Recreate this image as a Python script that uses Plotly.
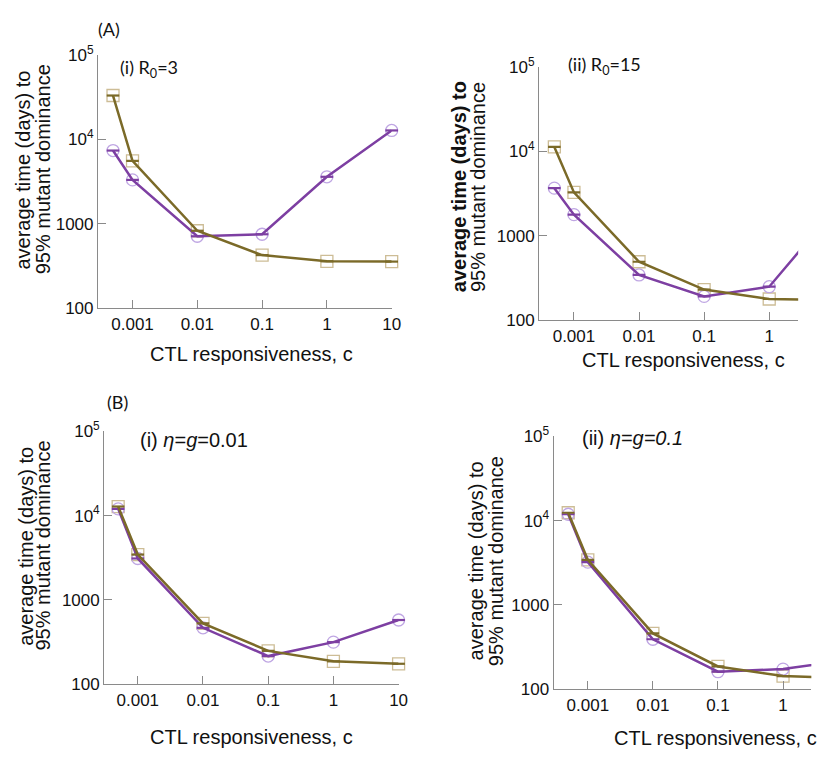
import plotly.graph_objects as go

W, H = 824, 761

# ---- data ----
c_vals = [0.0005, 0.001, 0.01, 0.1, 1, 10]
x_tickvals = [0.001, 0.01, 0.1, 1, 10]
x_ticktext = ["0.001", "0.01", "0.1", "1", "10"]
y_tickvals = [100, 1000, 10000, 100000]
y_ticktext = ["100", "1000", "10<sup>4</sup>", "10<sup>5</sup>"]

A_i_purple = [7340, 3300, 710, 750, 3590, 12700]
A_i_olive = [32900, 5540, 825, 425, 359, 356]
A_ii_purple = [3670, 1780, 343, 191, 249, 2030]
A_ii_olive = [11300, 3270, 492, 230, 178, 172]
B_i_purple = [12000, 3100, 467, 216, 316, 578]
B_i_olive = [12800, 3450, 528, 249, 187, 175]
B_ii_purple = [11900, 3220, 391, 161, 173, 222]
B_ii_olive = [12400, 3430, 459, 186, 143, 134]

panel_titles = ["(i) R<sub>0</sub>=3", "(ii) R<sub>0</sub>=15",
                "(i) <i>η</i>=<i>g</i>=0.01", "(ii) <i>η=g=0.1</i>"]
y_title_1 = "average time (days) to"
y_title_2 = "95% mutant dominance"
x_title = "CTL responsiveness, c"

# ---- style ----
PURPLE = "#7d3fa2"
OLIVE = "#7b6a28"
LAVENDER = "#bfa6e3"
TAN = "#cdbd96"
AXIS = "#8a8a8a"
TICKFONT = dict(family="Liberation Sans", size=17, color="#111")
TITLEFONT = dict(family="Liberation Sans", size=20, color="#111")
LABELFONT = dict(family="Lato", size=18, color="#111")

def px2x(px):
    return px / W

def py2y(py):
    return 1 - py / H

# pixel geometry of each panel
panels = [
    dict(x0=99, x1=396, yb=305, yt=44, xr=[-3.534, 1.0], clip=False,
         purple=A_i_purple, olive=A_i_olive),
    dict(x0=545, x1=807, yb=317.3, yt=56.7, xr=[-3.536, 0.445], clip=True,
         purple=A_ii_purple, olive=A_ii_olive),
    dict(x0=105.3, x1=403, yb=692.3, yt=431.7, xr=[-3.516, 1.0], clip=False,
         purple=B_i_purple, olive=B_i_olive),
    dict(x0=559.7, x1=820.3, yb=697.3, yt=437, xr=[-3.526, 0.435], clip=True,
         purple=B_ii_purple, olive=B_ii_olive),
]

fig = go.Figure()
layout = dict(width=W, height=H, margin=dict(l=0, r=0, t=0, b=0, pad=0),
              paper_bgcolor="white", plot_bgcolor="white", showlegend=False)

for i, p in enumerate(panels):
    n = "" if i == 0 else str(i + 1)
    xa, ya = "x" + n, "y" + n
    layout["xaxis" + n] = dict(
        type="log", range=p["xr"], domain=[px2x(p["x0"]), px2x(p["x1"])],
        anchor=ya, showgrid=False, zeroline=False, showline=True,
        linecolor=AXIS, linewidth=1, ticks="inside", ticklen=8, tickcolor=AXIS,
        tickwidth=1, tickvals=x_tickvals, ticktext=x_ticktext, tickfont=TICKFONT,
    )
    layout["yaxis" + n] = dict(
        type="log", range=[2, 5], domain=[py2y(p["yb"]), py2y(p["yt"])],
        anchor=xa, showgrid=False, zeroline=False, showline=True,
        linecolor=AXIS, linewidth=1, ticks="inside", ticklen=8, tickcolor=AXIS,
        tickwidth=1, tickvals=y_tickvals, ticktext=y_ticktext, tickfont=TICKFONT,
    )
    fig.add_trace(go.Scatter(x=c_vals, y=p["olive"], mode="markers", xaxis=xa, yaxis=ya,
                             cliponaxis=p["clip"],
                             marker=dict(symbol="square-open", size=12, color=TAN,
                                         line=dict(width=1.3, color=TAN))))
    fig.add_trace(go.Scatter(x=c_vals, y=p["purple"], mode="markers", xaxis=xa, yaxis=ya,
                             cliponaxis=p["clip"],
                             marker=dict(symbol="circle-open", size=12, color=LAVENDER,
                                         line=dict(width=1.3, color=LAVENDER))))
    fig.add_trace(go.Scatter(x=c_vals, y=p["purple"], mode="lines+markers", xaxis=xa, yaxis=ya,
                             cliponaxis=p["clip"],
                             line=dict(color=PURPLE, width=2.5),
                             marker=dict(symbol="line-ew", size=9, color=PURPLE,
                                         line=dict(width=2.2, color=PURPLE))))
    fig.add_trace(go.Scatter(x=c_vals, y=p["olive"], mode="lines+markers", xaxis=xa, yaxis=ya,
                             cliponaxis=p["clip"],
                             line=dict(color=OLIVE, width=2.5),
                             marker=dict(symbol="line-ew", size=9, color=OLIVE,
                                         line=dict(width=2.2, color=OLIVE))))

fig.update_layout(**layout)

ann = []
def add_text(text, px, py, font, angle=0):
    ann.append(dict(text=text, x=px2x(px), y=py2y(py), xref="paper", yref="paper",
                    showarrow=False, xanchor="center", yanchor="middle",
                    font=font, textangle=angle))

add_text("(A)", 110.5, 17, LABELFONT)
add_text("(B)", 118.5, 401.7, LABELFONT)
add_text(panel_titles[0], 150.5, 58, LABELFONT)
add_text(panel_titles[1], 611.5, 55, LABELFONT)
add_text(panel_titles[2], 196.5, 441, TITLEFONT)
add_text(panel_titles[3], 639, 439, TITLEFONT)
add_text(y_title_1, 23, 162.5, TITLEFONT, -90)
add_text(y_title_2, 43, 162.5, TITLEFONT, -90)
add_text("<b>" + y_title_1 + "</b>", 463.5, 180, TITLEFONT, -90)
add_text(y_title_2, 483.5, 180, TITLEFONT, -90)
add_text(y_title_1, 26, 550, TITLEFONT, -90)
add_text(y_title_2, 44, 550, TITLEFONT, -90)
add_text(y_title_1, 481.5, 565.5, TITLEFONT, -90)
add_text(y_title_2, 501.5, 565.5, TITLEFONT, -90)
add_text(x_title, 254.5, 352, TITLEFONT)
add_text(x_title, 691.5, 358, TITLEFONT)
add_text(x_title, 254.5, 746.7, TITLEFONT)
add_text(x_title, 723, 748, TITLEFONT)

fig.update_layout(annotations=ann)
fig.write_html("out.html", config={"displayModeBar": False},
               post_script="document.body.style.margin='0';")
